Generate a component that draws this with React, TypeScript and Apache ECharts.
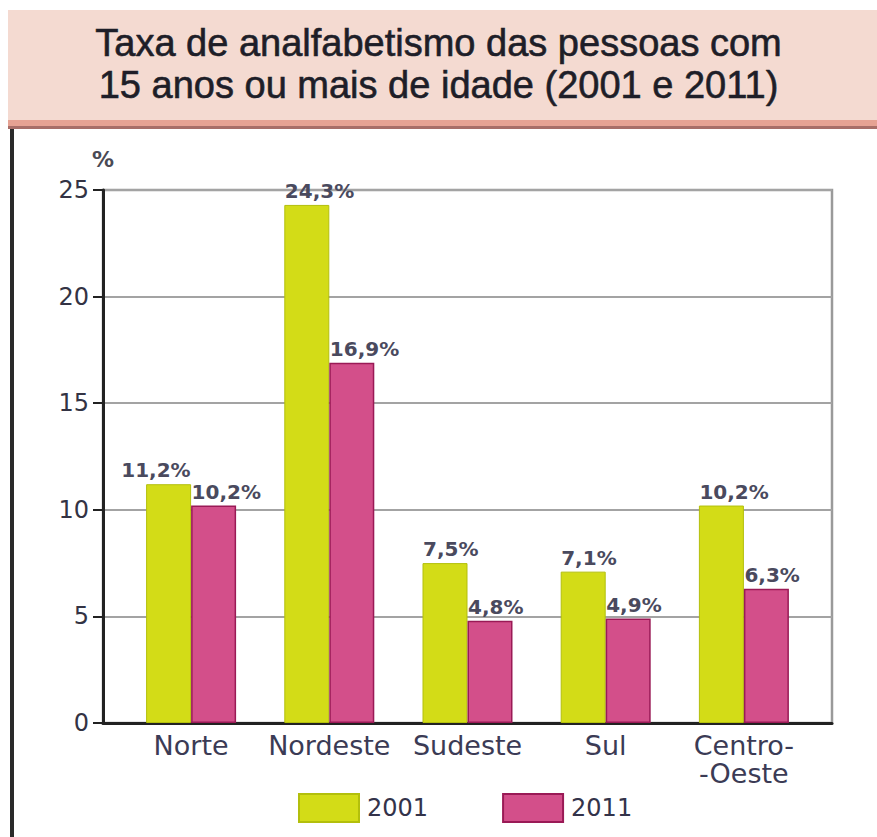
import React, { useEffect, useRef } from "react";
import * as echarts from "echarts";

const titleLines = [
  "Taxa de analfabetismo das pessoas com",
  "15 anos ou mais de idade (2001 e 2011)",
];
const categories = ["Norte", "Nordeste", "Sudeste", "Sul", "Centro-\n-Oeste"];
const seriesNames = ["2001", "2011"];
const values2001 = [11.2, 24.3, 7.5, 7.1, 10.2];
const values2011 = [10.2, 16.9, 4.8, 4.9, 6.3];
const yTicks = { min: 0, max: 25, interval: 5 };

const GREEN = "#d3dc17";
const GREEN_BORDER = "#b3bf0c";
const PINK = "#d34f8a";
const PINK_BORDER = "#9a1a56";
const LABEL_FONT = "'DejaVu Sans', sans-serif";

const fmt = (v: number) => v.toFixed(1).replace(".", ",") + "%";

export default function App() {
  const ref = useRef<HTMLDivElement>(null);
  useEffect(() => {
    document.body.style.margin = "0";
    if (!ref.current) return;
    const chart = echarts.init(ref.current, null, { renderer: "svg" });
    const valueLabel = {
      show: true,
      position: "top" as const,
      distance: 4,
      align: "left" as const,
      offset: [-22, 0],
      fontFamily: LABEL_FONT,
      fontWeight: "bold" as const,
      fontSize: 20,
      color: "#4a4a5e",
      formatter: (p: any) => fmt(p.value),
    };
    chart.setOption({
      animation: false,
      backgroundColor: "#ffffff",
      title: {
        text: titleLines.join("\n"),
        left: "center",
        top: 17,
        textStyle: {
          fontFamily: "'Liberation Sans', Arial, sans-serif",
          fontSize: 38,
          fontWeight: "normal",
          lineHeight: 42,
          color: "#1e1e28",
          textBorderColor: "#1e1e28",
          textBorderWidth: 0.6,
        },
      },
      graphic: [
        { type: "rect", z: -10, shape: { x: 8, y: 10, width: 869, height: 111 }, style: { fill: "#f4dad1" } },
        { type: "rect", z: -9, shape: { x: 8, y: 120, width: 869, height: 6 }, style: { fill: "#e6a293" } },
        { type: "rect", z: -9, shape: { x: 8, y: 126, width: 869, height: 3 }, style: { fill: "#a86e68" } },
        { type: "rect", z: -9, shape: { x: 10, y: 129, width: 4, height: 708 }, style: { fill: "#2a2a2a" } },
      ],
      legend: {
        data: seriesNames,
        left: 293,
        top: 788,
        itemWidth: 60,
        itemHeight: 28,
        itemGap: 74,
        icon: "rect",
        textStyle: {
          fontFamily: LABEL_FONT,
          fontSize: 24,
          color: "#33334a",
          padding: [0, 0, 0, 3],
        },
      },
      grid: [
        { left: 103, right: 45, top: 190, bottom: 114, show: true, borderColor: "#9a9a9a", borderWidth: 2.5 },
        { left: 122, right: 64, top: 190, bottom: 114 },
      ],
      xAxis: [
        {
          gridIndex: 0,
          type: "value",
          min: 0,
          max: 1,
          axisLine: { show: true, onZero: false, lineStyle: { color: "#222", width: 3 } },
          axisTick: { show: false },
          axisLabel: { show: false },
          splitLine: { show: false },
        },
        {
          gridIndex: 1,
          type: "category",
          data: categories,
          axisLine: { show: false },
          axisTick: { show: false },
          axisLabel: {
            fontFamily: LABEL_FONT,
            fontSize: 27,
            lineHeight: 28,
            color: "#3b3b55",
            margin: 8,
            interval: 0,
          },
        },
      ],
      yAxis: [
        {
          gridIndex: 0,
          type: "value",
          min: yTicks.min,
          max: yTicks.max,
          interval: yTicks.interval,
          name: "%",
          nameLocation: "end",
          nameGap: 20,
          nameTextStyle: {
            fontFamily: LABEL_FONT,
            fontWeight: "bold",
            fontSize: 22,
            color: "#4a4a55",
            align: "center",
          },
          axisLine: { show: true, lineStyle: { color: "#222", width: 3 } },
          axisTick: { show: true, length: 10, lineStyle: { color: "#222", width: 2 } },
          axisLabel: { fontFamily: LABEL_FONT, fontSize: 24, color: "#333344", margin: 14 },
          splitLine: { lineStyle: { color: "#a3a3a3", width: 2 } },
        },
        { gridIndex: 1, type: "value", min: yTicks.min, max: yTicks.max, interval: yTicks.interval, show: false },
      ],
      series: [
        {
          name: seriesNames[0],
          type: "bar",
          xAxisIndex: 1,
          yAxisIndex: 1,
          barWidth: 45,
          barGap: "0%",
          itemStyle: { color: GREEN, borderColor: GREEN_BORDER, borderWidth: 1 },
          label: valueLabel,
          data: values2001.map((v, i) =>
            i === 0 ? { value: v, label: { align: "right", offset: [22, 0] } } : v
          ),
        },
        {
          name: seriesNames[1],
          type: "bar",
          xAxisIndex: 1,
          yAxisIndex: 1,
          barWidth: 45,
          barGap: "0%",
          itemStyle: { color: PINK, borderColor: PINK_BORDER, borderWidth: 1.5 },
          label: valueLabel,
          data: values2011,
        },
      ],
    });
    return () => chart.dispose();
  }, []);
  return <div ref={ref} style={{ width: 877, height: 837 }} />;
}
